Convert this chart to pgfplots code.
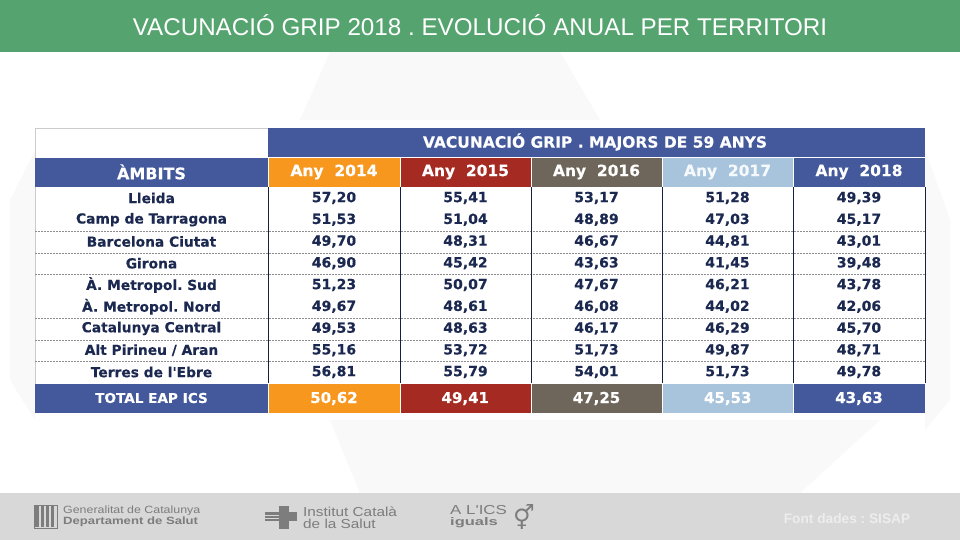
\documentclass[border=0pt]{standalone}
\usepackage{pgfplots}
\pgfplotsset{compat=1.18}
\usepackage{pgfplotstable}
\usepackage{fontspec}
\setmainfont{DejaVu Sans}
\newfontfamily\tbl{DejaVu Sans Bold}[FakeBold=0.3]
\newfontfamily\titlefont{Liberation Sans}
\frenchspacing
\definecolor{hdrgreen}{RGB}{85,164,111}
\definecolor{tblue}{RGB}{67,89,155}
\definecolor{torange}{RGB}{247,151,30}
\definecolor{tred}{RGB}{165,42,34}
\definecolor{tbrown}{RGB}{110,102,90}
\definecolor{tlblue}{RGB}{168,196,220}
\definecolor{navy}{RGB}{27,40,80}
\definecolor{footgray}{RGB}{216,216,216}
\definecolor{logogray}{RGB}{125,125,125}

\pgfplotstableread{
r y2014 y2015 y2016 y2017 y2018
0 57.20 55.41 53.17 51.28 49.39
1 51.53 51.04 48.89 47.03 45.17
2 49.70 48.31 46.67 44.81 43.01
3 46.90 45.42 43.63 41.45 39.48
4 51.23 50.07 47.67 46.21 43.78
5 49.67 48.61 46.08 44.02 42.06
6 49.53 48.63 46.17 46.29 45.70
7 55.16 53.72 51.73 49.87 48.71
8 56.81 55.79 54.01 51.73 49.78
}\vacdata

\pgfplotstableread{
c total
0 50.62
1 49.41
2 47.25
3 45.53
4 43.63
}\totdata

\pgfplotsset{
  valnodes/.style 2 args={draw=none, mark=none, nodes near coords={\pgfmathprintnumber[fixed,fixed zerofill,precision=2,use comma,assume math mode=true]{\pgfplotspointmeta}},
    point meta=explicit,
    every node near coord/.append style={anchor=center, inner sep=0pt, font=\tbl\fontsize{#2}{16}\selectfont, text=#1}}
}
\newcommand{\rowlab}[2]{\node[text=navy, inner sep=0pt] at (151.5,{198+21.75*#1}) {\tbl\fontsize{13.8}{16}\selectfont #2};}
\newcommand{\hd}[1]{\tbl\fontsize{15.5}{18}\selectfont #1}

\begin{document}
\begin{tikzpicture}
\begin{axis}[width=960pt,height=540pt,scale only axis,xmin=0,xmax=960,ymin=0,ymax=540,
  y dir=reverse, hide axis, clip=false]
% backgrounds
\fill[white] (0,0) rectangle (960,540);
\fill[black!2.5] (330,52) -- (560,52) -- (600,120) -- (300,120) -- cycle;
\fill[black!2.5] (10,200) -- (35,150) -- (35,420) -- (10,380) -- cycle;
\fill[black!2.5] (925,150) -- (950,220) -- (950,400) -- (925,430) -- cycle;
\fill[black!2.5] (330,420) -- (880,420) -- (800,493) -- (360,493) -- cycle;
\fill[hdrgreen] (0,0) rectangle (960,52);
\node[text=white] at (480,25) {\titlefont\fontsize{24.2}{28}\selectfont VACUNACIÓ GRIP 2018 . EVOLUCIÓ ANUAL PER TERRITORI};
% footer
\fill[footgray] (0,493) rectangle (960,540);
\fill[logogray] (35,506) rectangle (39,527);
\fill[logogray] (41,506) rectangle (44,527);
\fill[logogray] (46,506) rectangle (49,527);
\fill[logogray] (51,506) rectangle (54,527);
\draw[logogray, line width=0.8pt] (34,505) rectangle (57,528);
\node[anchor=west, text=logogray, inner sep=0pt] at (63,510.5) {\scalebox{1.18}[1]{\titlefont\fontsize{10.5}{12}\selectfont Generalitat de Catalunya}};
\node[anchor=west, text=logogray, inner sep=0pt] at (63,521.5) {\scalebox{1.25}[1]{\titlefont\bfseries\fontsize{10.5}{12}\selectfont Departament de Salut}};
\fill[logogray] (279,506) rectangle (289,529);
\fill[logogray] (265,512) rectangle (297,521);
\fill[footgray] (265,515) rectangle (279,516);
\fill[footgray] (265,518) rectangle (279,519);
\node[anchor=west, text=logogray, inner sep=0pt] at (303,511.5) {\scalebox{1.18}[1]{\titlefont\fontsize{13}{14}\selectfont Institut Català}};
\node[anchor=west, text=logogray, inner sep=0pt] at (303,524) {\scalebox{1.18}[1]{\titlefont\fontsize{13}{14}\selectfont de la Salut}};
\node[anchor=west, text=logogray, inner sep=0pt] at (450,510) {\scalebox{1.3}[1]{\titlefont\fontsize{13}{14}\selectfont A L'ICS}};
\node[anchor=west, text=logogray, inner sep=0pt] at (450,522.5) {\scalebox{1.5}[1]{\titlefont\bfseries\fontsize{11}{12}\selectfont iguals}};
\node[anchor=west, text=logogray, inner sep=0pt] at (513,517) {\fontsize{24}{24}\selectfont ⚥};
\node[text=white!93!black] at (847,519) {\titlefont\bfseries\fontsize{13.7}{15}\selectfont Font dades : SISAP};
% table frame
\draw[black!20] (35,128) -- (268,128);
\draw[black!20] (35,128) -- (35,413);
\fill[tblue] (268,128) rectangle (925,157);
\node[text=white] at (595,142) {\hd{VACUNACIÓ GRIP . MAJORS DE 59 ANYS}};
\fill[tblue] (35,158) rectangle (268,187);
\fill[torange] (269,158) rectangle (400,187);
\fill[tred] (401,158) rectangle (531,187);
\fill[tbrown] (532,158) rectangle (662,187);
\fill[tlblue] (663,158) rectangle (793,187);
\fill[tblue] (794,158) rectangle (925,187);
\node[text=white] at (151.5,172) {\tbl\fontsize{16}{18}\selectfont ÀMBITS};
\node[text=white] at (334,172) {\hd{Any\ \ 2014}};
\node[text=white] at (465.5,172) {\hd{Any\ \ 2015}};
\node[text=white] at (596.5,172) {\hd{Any\ \ 2016}};
\node[text=white!90!tlblue] at (727.5,172) {\hd{Any\ \ 2017}};
\node[text=white] at (859,172) {\hd{Any\ \ 2018}};
% grid lines
\pgfplotsinvokeforeach{231,253,274,318,340,361}{\draw[black!45, dash pattern=on 2pt off 1pt, line width=0.6pt] (35,#1) -- (925,#1);}
\pgfplotsinvokeforeach{268,400,531,662,793,925}{\draw[navy!80!black, line width=0.9pt] (#1,187) -- (#1,383);}
% total row
\fill[tblue] (35,384) rectangle (268,413);
\fill[torange] (269,384) rectangle (400,413);
\fill[tred] (401,384) rectangle (531,413);
\fill[tbrown] (532,384) rectangle (662,413);
\fill[tlblue] (663,384) rectangle (793,413);
\fill[tblue] (794,384) rectangle (925,413);
\node[text=white] at (151.5,398) {\tbl\fontsize{13.6}{16}\selectfont TOTAL EAP ICS};
% row labels
\rowlab{0}{Lleida}
\rowlab{1}{Camp de Tarragona}
\rowlab{2}{Barcelona Ciutat}
\rowlab{3}{Girona}
\rowlab{4}{À. Metropol. Sud}
\rowlab{5}{À. Metropol. Nord}
\rowlab{6}{Catalunya Central}
\rowlab{7}{Alt Pirineu / Aran}
\rowlab{8}{Terres de l'Ebre}
% values
\addplot[valnodes={navy}{14}] table[x expr=334, y expr={198+21.75*\thisrow{r}}, meta=y2014] {\vacdata};
\addplot[valnodes={navy}{14}] table[x expr=465.5, y expr={198+21.75*\thisrow{r}}, meta=y2015] {\vacdata};
\addplot[valnodes={navy}{14}] table[x expr=596.5, y expr={198+21.75*\thisrow{r}}, meta=y2016] {\vacdata};
\addplot[valnodes={navy}{14}] table[x expr=727.5, y expr={198+21.75*\thisrow{r}}, meta=y2017] {\vacdata};
\addplot[valnodes={navy}{14}] table[x expr=859, y expr={198+21.75*\thisrow{r}}, meta=y2018] {\vacdata};
\addplot[valnodes={white}{15}] table[x expr={334+131.25*\thisrow{c}}, y expr=398.5, meta=total] {\totdata};
\end{axis}
\end{tikzpicture}
\end{document}
